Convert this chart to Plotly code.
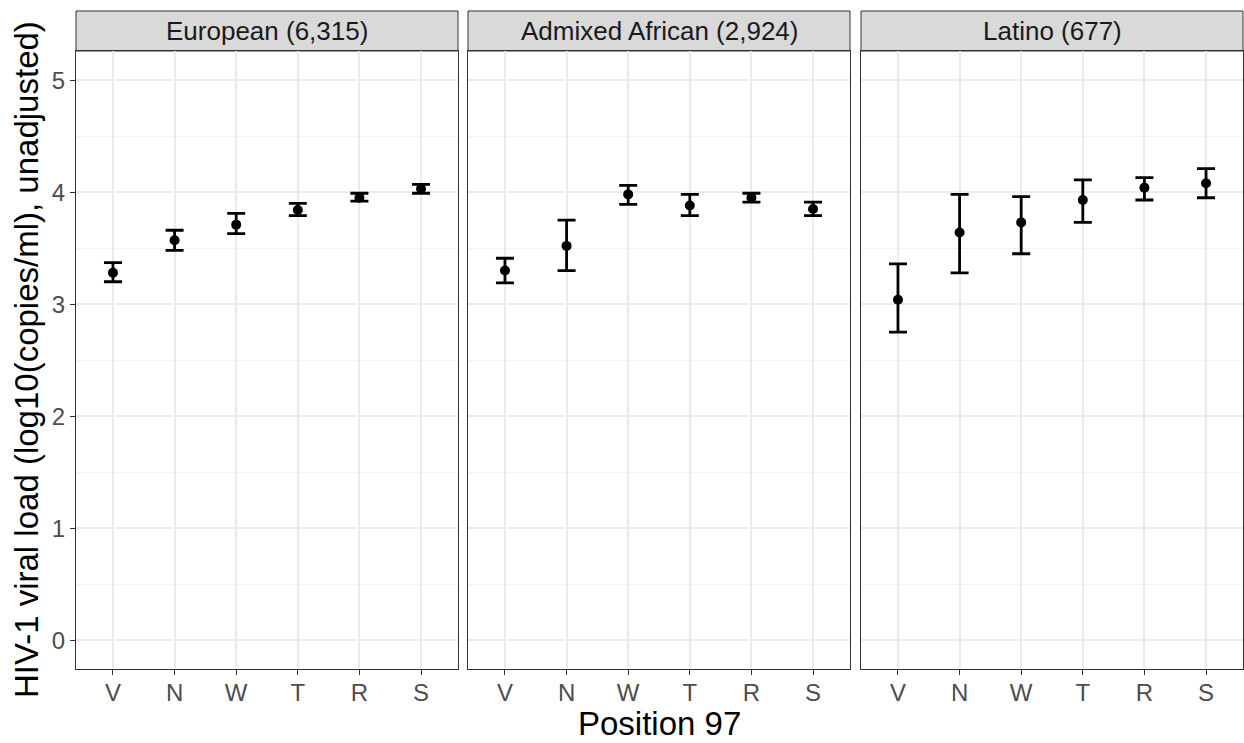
import plotly.graph_objects as go

categories = ["V", "N", "W", "T", "R", "S"]
panel_titles = ["European (6,315)", "Admixed African (2,924)", "Latino (677)"]

european_mean = [3.28, 3.57, 3.71, 3.84, 3.95, 4.03]
european_lo = [3.20, 3.48, 3.63, 3.79, 3.92, 3.99]
european_hi = [3.37, 3.66, 3.81, 3.90, 3.99, 4.07]

african_mean = [3.30, 3.52, 3.98, 3.88, 3.95, 3.85]
african_lo = [3.19, 3.30, 3.89, 3.79, 3.91, 3.79]
african_hi = [3.41, 3.75, 4.06, 3.98, 3.99, 3.91]

latino_mean = [3.04, 3.64, 3.73, 3.93, 4.04, 4.08]
latino_lo = [2.75, 3.28, 3.45, 3.73, 3.93, 3.95]
latino_hi = [3.36, 3.98, 3.96, 4.11, 4.13, 4.21]

y_ticks = [0, 1, 2, 3, 4, 5]

series = [
    (european_mean, european_lo, european_hi),
    (african_mean, african_lo, african_hi),
    (latino_mean, latino_lo, latino_hi),
]

FONT = "Liberation Sans, Arial, sans-serif"
W, H = 1244, 743
ML, MR, MT, MB = 76, 1, 11, 74
plot_w = W - ML - MR
plot_h = H - MT - MB
strip_h = 40
ytop = (plot_h - strip_h) / plot_h

panels_px = [(76, 458), (468, 850), (861, 1243)]
domains = [((a - ML) / plot_w, (b - ML) / plot_w) for a, b in panels_px]

fig = go.Figure()
layout = dict(
    width=W, height=H,
    margin=dict(l=ML, r=MR, t=MT, b=MB),
    paper_bgcolor="white", plot_bgcolor="white",
    showlegend=False,
    font=dict(family=FONT),
)

shapes = []
annotations = []
for i, (mean, lo, hi) in enumerate(series):
    xa = "x" if i == 0 else f"x{i+1}"
    ya = "y" if i == 0 else f"y{i+1}"
    plus = [h - m for h, m in zip(hi, mean)]
    minus = [m - l for m, l in zip(mean, lo)]
    fig.add_trace(go.Scatter(
        x=categories, y=mean, xaxis=xa, yaxis=ya, mode="markers",
        marker=dict(color="black", size=10),
        error_y=dict(type="data", symmetric=False, array=plus, arrayminus=minus,
                     color="black", thickness=2.8, width=9),
        hoverinfo="skip",
    ))
    xkey = "xaxis" if i == 0 else f"xaxis{i+1}"
    ykey = "yaxis" if i == 0 else f"yaxis{i+1}"
    layout[xkey] = dict(
        domain=list(domains[i]), anchor=ya, type="category",
        categoryorder="array", categoryarray=categories,
        range=[-0.6, 5.6],
        showgrid=True, gridcolor="#EBEBEB", gridwidth=1.5,
        showline=True, mirror=True, linecolor="#333333", linewidth=1,
        ticks="outside", ticklen=5, tickwidth=1, tickcolor="#333333",
        ticklabelstandoff=-3,
        tickfont=dict(size=24, color="#4D4D4D", family=FONT),
        zeroline=False, fixedrange=True,
    )
    ydict = dict(
        domain=[0, ytop], anchor=xa, range=[-0.257, 5.26],
        tickmode="array", tickvals=y_ticks, ticktext=[str(t) for t in y_ticks],
        showgrid=True, gridcolor="#EBEBEB", gridwidth=1.5,
        minor=dict(showgrid=True, gridcolor="#F2F2F2", gridwidth=0.8,
                   tickvals=[0.5, 1.5, 2.5, 3.5, 4.5]),
        showline=True, mirror=True, linecolor="#333333", linewidth=1,
        zeroline=False, fixedrange=True,
    )
    if i == 0:
        ydict.update(ticks="outside", ticklen=5, tickwidth=1, tickcolor="#333333",
                     tickfont=dict(size=24, color="#4D4D4D", family=FONT),
                     showticklabels=True)
    else:
        ydict.update(ticks="", showticklabels=False, matches="y")
    layout[ykey] = ydict

    xdom = xa + " domain"
    shapes.append(dict(type="rect", xref=xdom, yref="paper", x0=0, x1=1,
                       y0=ytop, y1=1, fillcolor="#D9D9D9",
                       line=dict(color="#333333", width=1), layer="below"))
    annotations.append(dict(text=panel_titles[i], xref=xdom, yref="paper",
                            x=0.5, y=(ytop + 1) / 2, showarrow=False,
                            xanchor="center", yanchor="middle",
                            font=dict(size=26, color="#1A1A1A", family=FONT)))

annotations.append(dict(text="Position 97", xref="paper", yref="paper",
                        x=0.5, y=(669 - 723) / plot_h, showarrow=False,
                        xanchor="center", yanchor="middle",
                        font=dict(size=33, color="black", family=FONT)))
annotations.append(dict(text="HIV-1 viral load (log10(copies/ml), unadjusted)",
                        xref="paper", yref="paper",
                        x=(27 - ML) / plot_w, y=ytop / 2, showarrow=False,
                        textangle=-90, xanchor="center", yanchor="middle",
                        font=dict(size=33, color="black", family=FONT)))

layout["shapes"] = shapes
layout["annotations"] = annotations
fig.update_layout(**layout)
fig.write_html("out.html")
